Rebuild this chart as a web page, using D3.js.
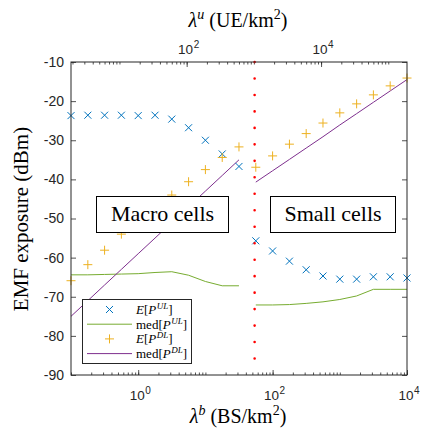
<!DOCTYPE html>
<html>
<head>
<meta charset="utf-8">
<script src="https://cdn.jsdelivr.net/npm/d3@7"></script>
<style>
  body { margin: 0; background: #fff; }
  svg { display: block; }
</style>
</head>
<body>
<svg width="427" height="429"></svg>
<script>
// BS densities (BS/km^2) of the two regimes
const macroLambda = [0.1, 0.178, 0.316, 0.562, 1, 1.78, 3.16, 5.62, 10, 17.8, 31.6];
const smallLambda = [56.2, 100, 178, 316, 562, 1000, 1780, 3160, 5620, 10000];

// E[P^UL] (blue crosses)
const macroMeanUL = [-23.7, -23.6, -23.6, -23.6, -23.7, -23.6, -24.6, -26.8, -30.0, -33.5, -36.7];
const smallMeanUL = [-55.7, -58.3, -60.9, -63.1, -64.7, -65.5, -65.5, -64.9, -64.9, -65.2];
// med[P^UL] (green line)
const macroMedUL = [-64.4, -64.4, -64.3, -64.2, -64.1, -63.8, -63.6, -64.5, -66.1, -67.2, -67.2];
const smallMedUL = [-72.1, -72.1, -72.0, -71.7, -71.3, -70.7, -69.8, -68.1, -68.1, -68.1];
// E[P^DL] (orange plus)
const macroMeanDL = [-65.9, -61.8, -58.1, -54.0, -50.8, -47.1, -44.0, -40.6, -37.5, -34.4, -31.7];
const smallMeanDL = [-36.9, -34.0, -31.0, -28.3, -25.6, -23.0, -20.7, -18.4, -16.1, -14.1];
// med[P^DL] (purple line)
const macroMedDL = [-75.0, -71.0, -67.0, -63.0, -59.0, -55.0, -51.0, -47.0, -43.0, -39.0, -35.0];
const smallMedDL = [-40.7, -37.8, -34.9, -32.0, -29.1, -26.1, -23.2, -20.3, -17.4, -14.5];

const switchLambda = 54;
const yTicks = [-90, -80, -70, -60, -50, -40, -30, -20, -10];
const bottomLabelExp = [0, 2, 4];
const topLabelExp = [2, 4];

const svg = d3.select("svg");
const mLeft = 71, mRight = 407, mTop = 62, mBottom = 375;
const ink = "#262626";
const serif = "'Liberation Serif', 'DejaVu Serif', serif";
const sans = "'Liberation Sans', Arial, sans-serif";

const x = d3.scaleLog().domain([0.1, 1e4]).range([mLeft, mRight]);
const xTop = d3.scaleLog().domain([1.9, 1.9e5]).range([mLeft, mRight]);
const y = d3.scaleLinear().domain([-90, -10]).range([mBottom, mTop]);

function logTicks(lo, hi) {
    const out = [];
    for (let e = Math.floor(Math.log10(lo)); e <= Math.ceil(Math.log10(hi)); e++) {
        for (let m = 1; m < 10; m++) {
            const v = m * Math.pow(10, e);
            if (v >= lo * 0.999 && v <= hi * 1.001) out.push(v);
        }
    }
    return out;
}

// ---- axes ----
const bottomMinor = logTicks(0.1, 1e4);
svg.append("g")
    .attr("transform", `translate(0,${mBottom})`)
    .call(d3.axisBottom(x).tickValues(bottomMinor).tickSize(-2.5).tickFormat(""))
    .call(g => g.select(".domain").remove());
svg.append("g")
    .attr("transform", `translate(0,${mBottom})`)
    .call(d3.axisBottom(x).tickValues(bottomLabelExp.map(e => Math.pow(10, e))).tickSize(-5).tickFormat(""))
    .call(g => g.select(".domain").remove());

const topMinor = logTicks(1.9, 1.9e5);
svg.append("g")
    .attr("transform", `translate(0,${mTop})`)
    .call(d3.axisTop(xTop).tickValues(topMinor).tickSize(-2.5).tickFormat(""))
    .call(g => g.select(".domain").remove());
svg.append("g")
    .attr("transform", `translate(0,${mTop})`)
    .call(d3.axisTop(xTop).tickValues(topLabelExp.map(e => Math.pow(10, e))).tickSize(-5).tickFormat(""))
    .call(g => g.select(".domain").remove());

const yAxis = svg.append("g")
    .attr("transform", `translate(${mLeft},0)`)
    .call(d3.axisLeft(y).tickValues(yTicks).tickSize(-5).tickPadding(7).tickFormat(d => String(d)))
    .call(g => g.select(".domain").remove());
yAxis.selectAll("text").attr("font-family", sans).attr("font-size", 14).attr("fill", ink);

svg.append("g")
    .attr("transform", `translate(${mRight},0)`)
    .call(d3.axisRight(y).tickValues(yTicks).tickSize(-5).tickFormat(""))
    .call(g => g.select(".domain").remove());

svg.selectAll(".tick line").attr("stroke", ink).attr("stroke-width", 0.8);

function powerLabel(xpos, ypos, exp) {
    const t = svg.append("text")
        .attr("x", xpos).attr("y", ypos)
        .attr("text-anchor", "middle")
        .attr("font-family", sans).attr("font-size", 13.5).attr("fill", ink);
    t.append("tspan").text("10");
    t.append("tspan").attr("dy", -6).attr("dx", 0.5).attr("font-size", 10).text(exp);
}
bottomLabelExp.forEach(e => powerLabel(x(Math.pow(10, e)) + 2, 400, e));
topLabelExp.forEach(e => powerLabel(xTop(Math.pow(10, e)) + 2, 54, e));

// ---- data ----
const plot = svg.append("g");

function drawLine(xs, ys, color) {
    plot.append("path")
        .datum(xs.map((v, i) => [v, ys[i]]))
        .attr("fill", "none")
        .attr("stroke", color)
        .attr("stroke-width", 1)
        .attr("d", d3.line().x(d => x(d[0])).y(d => y(d[1])));
}

function crossPath(r) { return `M${-r},${-r}L${r},${r}M${-r},${r}L${r},${-r}`; }
function plusPath(r) { return `M${-r},0L${r},0M0,${-r}L0,${r}`; }

function drawMarkers(xs, ys, color, shape) {
    plot.selectAll(null)
        .data(xs.map((v, i) => [v, ys[i]]))
        .enter().append("path")
        .attr("transform", d => `translate(${x(d[0])},${y(d[1])})`)
        .attr("d", shape)
        .attr("fill", "none")
        .attr("stroke", color)
        .attr("stroke-width", 1);
}

const cBlue = "#0072BD", cGreen = "#77AC30", cOrange = "#EDB120", cPurple = "#7E2F8E";

drawLine(macroLambda, macroMedUL, cGreen);
drawLine(smallLambda, smallMedUL, cGreen);
drawLine(macroLambda, macroMedDL, cPurple);
drawLine(smallLambda, smallMedDL, cPurple);
drawMarkers(macroLambda, macroMeanUL, cBlue, crossPath(3.5));
drawMarkers(smallLambda, smallMeanUL, cBlue, crossPath(3.5));
drawMarkers(macroLambda, macroMeanDL, cOrange, plusPath(4.5));
drawMarkers(smallLambda, smallMeanDL, cOrange, plusPath(4.5));

// red dotted separator
plot.append("line")
    .attr("x1", x(switchLambda)).attr("x2", x(switchLambda))
    .attr("y1", y(-10)).attr("y2", y(-90))
    .attr("stroke", "#FF0000")
    .attr("stroke-width", 2.6)
    .attr("stroke-linecap", "round")
    .attr("stroke-dasharray", `0 ${(y(-90) - y(-10)) / 19}`);

// frame
svg.append("rect")
    .attr("x", mLeft).attr("y", mTop)
    .attr("width", mRight - mLeft).attr("height", mBottom - mTop)
    .attr("fill", "none").attr("stroke", ink).attr("stroke-width", 1);

// ---- region boxes ----
function regionBox(x0, x1, y0, y1, label) {
    svg.append("rect")
        .attr("x", x0).attr("y", y0).attr("width", x1 - x0).attr("height", y1 - y0)
        .attr("fill", "#fff").attr("stroke", "#000").attr("stroke-width", 1);
    svg.append("text")
        .attr("x", (x0 + x1) / 2).attr("y", y0 + 24)
        .attr("text-anchor", "middle")
        .attr("font-family", serif).attr("font-size", 22).attr("fill", "#000")
        .text(label);
}
regionBox(96.5, 228.5, 196.5, 232.5, "Macro cells");
regionBox(270.5, 395.5, 196.5, 232.5, "Small cells");

// ---- axis titles ----
function lambdaLabel(xpos, ypos, sup, unit) {
    const t = svg.append("text")
        .attr("x", xpos).attr("y", ypos)
        .attr("text-anchor", "middle")
        .attr("font-family", serif).attr("font-size", 20).attr("fill", "#000");
    t.append("tspan").attr("font-style", "italic").text("λ");
    t.append("tspan").attr("font-style", "italic").attr("font-size", 14).attr("dy", -8).text(sup);
    t.append("tspan").attr("dy", 8).text(" (" + unit + "/km");
    t.append("tspan").attr("font-size", 14).attr("dy", -8).text("2");
    t.append("tspan").attr("dy", 8).text(")");
}
lambdaLabel(238, 423, "b", "BS");
lambdaLabel(238, 27, "u", "UE");

svg.append("text")
    .attr("transform", "translate(28,219) rotate(-90)")
    .attr("text-anchor", "middle")
    .attr("font-family", serif).attr("font-size", 21).attr("fill", "#000")
    .text("EMF exposure (dBm)");

// ---- legend ----
const legend = svg.append("g");
legend.append("rect")
    .attr("x", 82.5).attr("y", 299.5).attr("width", 109).attr("height", 64)
    .attr("fill", "#fff").attr("stroke", ink).attr("stroke-width", 1);

const legendItems = [
    { kind: "cross", color: cBlue, pre: "E", preItalic: true, sup: "UL" },
    { kind: "line", color: cGreen, pre: "med", preItalic: false, sup: "UL" },
    { kind: "plus", color: cOrange, pre: "E", preItalic: true, sup: "DL" },
    { kind: "line", color: cPurple, pre: "med", preItalic: false, sup: "DL" }
];
legendItems.forEach((d, i) => {
    const cy = 309.5 + i * 14.7;
    if (d.kind === "line") {
        legend.append("line")
            .attr("x1", 87).attr("x2", 132).attr("y1", cy).attr("y2", cy)
            .attr("stroke", d.color).attr("stroke-width", 1);
    } else {
        legend.append("path")
            .attr("transform", `translate(109.5,${cy})`)
            .attr("d", d.kind === "cross" ? crossPath(3.5) : plusPath(4.5))
            .attr("fill", "none").attr("stroke", d.color).attr("stroke-width", 1);
    }
    const t = legend.append("text")
        .attr("x", 136).attr("y", cy + 4.5)
        .attr("font-family", serif).attr("font-size", 13).attr("fill", "#000");
    t.append("tspan").attr("font-style", d.preItalic ? "italic" : "normal").text(d.pre);
    t.append("tspan").text("[");
    t.append("tspan").attr("font-style", "italic").text("P");
    t.append("tspan").attr("font-style", "italic").attr("font-size", 9).attr("dx", 0.5).attr("dy", -5).text(d.sup);
    t.append("tspan").attr("dy", 5).text("]");
});
</script>
</body>
</html>
